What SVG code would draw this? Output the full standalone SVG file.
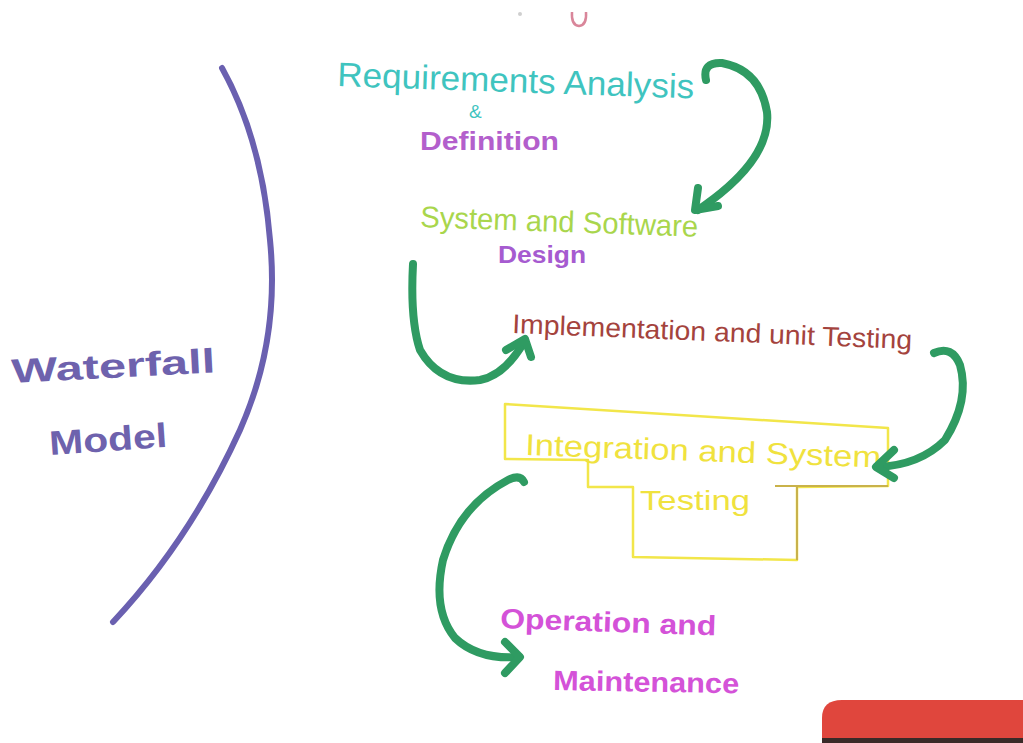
<svg xmlns="http://www.w3.org/2000/svg" width="1023" height="743" viewBox="0 0 1023 743">
  <defs>
    <style>
      .hand { font-family: "Liberation Sans", "DejaVu Sans", sans-serif; }
      .thick { font-weight: bold; }
      .flow { fill: none; stroke: #2f9b62; stroke-width: 8; stroke-linecap: round; stroke-linejoin: round; }
      .box { fill: none; stroke: #f2e64a; stroke-width: 2.5; stroke-linejoin: round; }
      .box-dark { fill: none; stroke: #c9b24a; stroke-width: 2; }
    </style>
  </defs>

  <rect x="0" y="0" width="1023" height="743" fill="#ffffff"/>

  <!-- cropped marks along the top edge -->
  <path d="M572 12 Q571 25 579 26 Q587 25 586 12" fill="none" stroke="#d9869a" stroke-width="2.5"/>
  <circle cx="520" cy="14" r="2" fill="#cfcfcf"/>

  <!-- title bracket -->
  <g id="title">
    <path d="M222 68 Q262 140 270 240 Q280 340 240 430 Q190 540 113 622" fill="none" stroke="#6a60b0" stroke-width="6" stroke-linecap="round"/>
    <text class="hand thick" x="12" y="383" font-size="34" fill="#6e62ad" textLength="204" lengthAdjust="spacingAndGlyphs" transform="rotate(-3 12 383)">Waterfall</text>
    <text class="hand thick" x="50" y="455" font-size="34" fill="#6e62ad" textLength="118" lengthAdjust="spacingAndGlyphs" transform="rotate(-4 50 455)">Model</text>
  </g>

  <g id="requirements">
    <text class="hand" x="337" y="86" font-size="34" fill="#3fc4bf" textLength="357" lengthAdjust="spacingAndGlyphs" transform="rotate(2 337 86)">Requirements Analysis</text>
    <text class="hand" x="469" y="118" font-size="19" fill="#3fc4bf">&amp;</text>
    <text class="hand thick" x="420" y="150" font-size="26" fill="#b35fcc" textLength="139" lengthAdjust="spacingAndGlyphs">Definition</text>
  </g>

  <g id="design">
    <text class="hand" x="420" y="227" font-size="30" fill="#a9d64c" textLength="278" lengthAdjust="spacingAndGlyphs" transform="rotate(2 420 227)">System and Software</text>
    <text class="hand thick" x="498" y="263" font-size="24" fill="#a65bd0" textLength="88" lengthAdjust="spacingAndGlyphs">Design</text>
  </g>

  <g id="implementation">
    <text class="hand" x="512" y="333" font-size="27" fill="#a4433d" textLength="400" lengthAdjust="spacingAndGlyphs" transform="rotate(2.3 512 333)">Implementation and unit Testing</text>
  </g>

  <g id="integration">
    <path class="box" d="M505 404 L888 428 L888 486 L797 487 L797 560 L633 557 L633 487 L588 487 L588 460 L505 459 Z"/>
    <path class="box-dark" d="M775 486 L888 486 M797 487 L797 560"/>
    <text class="hand" x="525" y="455" font-size="30" fill="#f0e23e" textLength="356" lengthAdjust="spacingAndGlyphs" transform="rotate(2 525 455)">Integration and System</text>
    <text class="hand" x="640" y="510" font-size="28" fill="#f0e23e" textLength="110" lengthAdjust="spacingAndGlyphs">Testing</text>
  </g>

  <g id="operation">
    <text class="hand thick" x="500" y="628" font-size="28" fill="#d452d8" textLength="216" lengthAdjust="spacingAndGlyphs" transform="rotate(2 500 628)">Operation and</text>
    <text class="hand thick" x="553" y="690" font-size="28" fill="#d452d8" textLength="186" lengthAdjust="spacingAndGlyphs" transform="rotate(1 553 690)">Maintenance</text>
  </g>

  <!-- connectors between phases -->
  <g id="connectors">
    <path class="flow" d="M706 80 Q702 62 722 63 Q760 70 767 112 Q772 160 698 210"/>
    <path class="flow" d="M698 188 L695 210 L718 206"/>

    <path class="flow" d="M413 264 Q410 320 420 350 Q440 385 480 380 Q505 375 524 342"/>
    <path class="flow" d="M506 350 L525 339 L531 357"/>

    <path class="flow" d="M934 353 Q952 345 960 365 Q970 400 945 440 Q920 465 878 467"/>
    <path class="flow" d="M894 450 L876 467 L894 478"/>

    <path class="flow" d="M524 482 Q520 474 508 480 Q460 505 443 560 Q432 610 455 638 Q478 660 519 657"/>
    <path class="flow" d="M505 642 L520 657 L505 673"/>
  </g>

  <!-- button cut off at the lower right -->
  <g id="corner-button">
    <path d="M822 743 L822 718 Q822 700 842 700 L1023 700 L1023 743 Z" fill="#e0463d"/>
    <rect x="822" y="738" width="201" height="5" fill="#3a2a28"/>
  </g>
</svg>
